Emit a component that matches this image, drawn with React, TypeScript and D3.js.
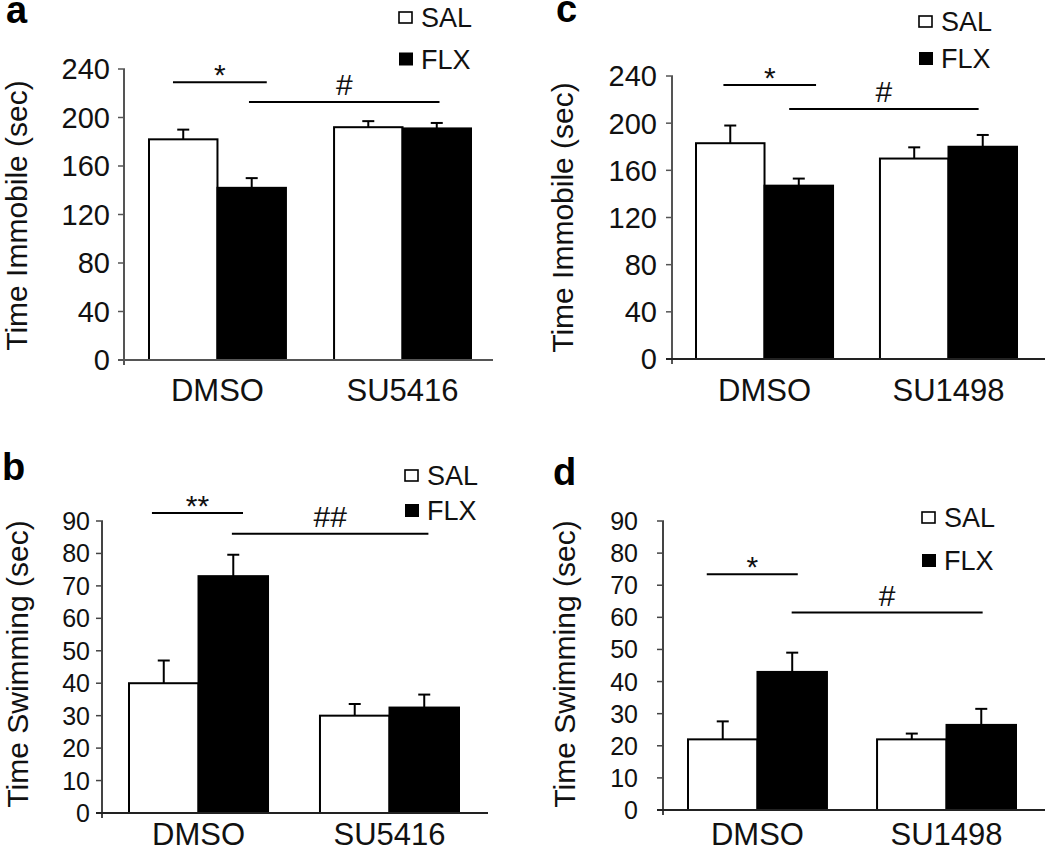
import React from "react";
import * as d3 from "d3";

// ---------- data ----------
const SERIES = ["SAL", "FLX"];
const groupsSU5416 = ["DMSO", "SU5416"];
const groupsSU1498 = ["DMSO", "SU1498"];

const ticksImmobile = [0, 40, 80, 120, 160, 200, 240];
const ticksSwimming = [0, 10, 20, 30, 40, 50, 60, 70, 80, 90];

// panel a: Time Immobile, SU5416
const aSalMean = [182, 192];
const aSalErr = [8, 5];
const aFlxMean = [142, 191];
const aFlxErr = [8, 4.5];
// panel b: Time Swimming, SU5416
const bSalMean = [40, 30];
const bSalErr = [7, 3.6];
const bFlxMean = [73, 32.5];
const bFlxErr = [6.6, 4];
// panel c: Time Immobile, SU1498
const cSalMean = [183, 170];
const cSalErr = [15, 9.5];
const cFlxMean = [147, 180];
const cFlxErr = [6, 10];
// panel d: Time Swimming, SU1498
const dSalMean = [22, 22];
const dSalErr = [5.6, 1.8];
const dFlxMean = [43, 26.5];
const dFlxErr = [6, 5];

// significance annotations: [label, fromGroup, fromFrac, toGroup, toFrac, yValue]
const aSig = [
  ["*", 0, 0.175, 0, 0.86, 229],
  ["#", 0, 0.73, 1, 0.77, 212.8],
];
const bSig = [
  ["**", 0, 0.165, 0, 0.82, 92.5],
  ["##", 0, 0.74, 1, 0.78, 86.1],
];
const cSig = [
  ["*", 0, 0.2, 0, 0.876, 232.4],
  ["#", 0, 0.68, 1, 0.72, 212],
];
const dSig = [
  ["*", 0, 0.135, 0, 0.79, 73.4],
  ["#", 0, 0.746, 1, 0.76, 61.5],
];

const FONT = "'Liberation Sans', Arial, Helvetica, sans-serif";

type Cfg = {
  letter: string;
  letterX: number;
  letterY: number;
  groups: string[];
  sal: number[];
  salErr: number[];
  flx: number[];
  flxErr: number[];
  sig: any[];
  ticks: number[];
  yMax: number;
  yLabel: string;
  axisX: number;
  axisRight: number;
  yTop: number;
  yZero: number;
  bandStart: number;
  bandEnd: number;
  padInner: number;
  tickFont: number;
  tickLabelX: number;
  yLabelX: number;
  yLabelY: number;
  legendX: number;
  salBase: number;
  flxBase: number;
  catBase: number;
  axisColor: string;
  xAxisColor: string;
};

function Panel({ c }: { c: Cfg }) {
  const x = d3
    .scaleBand<string>()
    .domain(c.groups)
    .range([c.bandStart, c.bandEnd])
    .paddingInner(c.padInner)
    .paddingOuter(0);
  const xi = d3.scaleBand<string>().domain(SERIES).range([0, x.bandwidth()]);
  const y = d3.scaleLinear().domain([0, c.yMax]).range([c.yZero, c.yTop]);

  const rows = c.groups.flatMap((g, gi) => [
    { g, s: "SAL", v: c.sal[gi], e: c.salErr[gi] },
    { g, s: "FLX", v: c.flx[gi], e: c.flxErr[gi] },
  ]);

  const capW = 12;

  return (
    <g>
      <text
        x={c.letterX}
        y={c.letterY}
        fontFamily={FONT}
        fontWeight="bold"
        fontSize={38}
      >
        {c.letter}
      </text>

      {/* y axis label */}
      <text
        transform={`translate(${c.yLabelX},${c.yLabelY}) rotate(-90)`}
        textAnchor="middle"
        fontFamily={FONT}
        fontSize={30}
        fill="#111"
      >
        {c.yLabel}
      </text>

      {/* bars */}
      {rows.map((r, i) => {
        const bx = (x(r.g) as number) + (xi(r.s) as number);
        const bw = xi.bandwidth();
        const top = y(r.v);
        const et = y(r.v + r.e);
        const cx = bx + bw / 2;
        return (
          <g key={i}>
            <line x1={cx} x2={cx} y1={top} y2={et} stroke="#000" strokeWidth={2} />
            <line
              x1={cx - capW / 2}
              x2={cx + capW / 2}
              y1={et}
              y2={et}
              stroke="#000"
              strokeWidth={2}
            />
            <rect
              x={bx}
              y={top}
              width={bw}
              height={y(0) - top}
              fill={r.s === "SAL" ? "#fff" : "#000"}
              stroke="#000"
              strokeWidth={2}
            />
          </g>
        );
      })}

      {/* y axis */}
      <line
        x1={c.axisX}
        x2={c.axisX}
        y1={y(c.yMax)}
        y2={y(0) + 5}
        stroke={c.axisColor}
        strokeWidth={2}
      />
      {c.ticks.map((t) => (
        <g key={t}>
          <line
            x1={c.axisX - 6}
            x2={c.axisX + 1}
            y1={y(t)}
            y2={y(t)}
            stroke={c.axisColor}
            strokeWidth={1.5}
          />
          <text
            x={c.tickLabelX}
            y={y(t)}
            dy="0.36em"
            textAnchor="end"
            fontFamily={FONT}
            fontSize={c.tickFont}
            fill="#111"
          >
            {t}
          </text>
        </g>
      ))}

      {/* x axis */}
      <line
        x1={c.axisX - 6}
        x2={c.axisRight}
        y1={y(0)}
        y2={y(0)}
        stroke={c.xAxisColor}
        strokeWidth={2}
      />
      {c.groups.map((g) => (
        <text
          key={g}
          x={(x(g) as number) + x.bandwidth() / 2}
          y={c.catBase}
          textAnchor="middle"
          fontFamily={FONT}
          fontSize={31}
          fill="#111"
        >
          {g}
        </text>
      ))}

      {/* significance */}
      {c.sig.map((s, i) => {
        const x1 = (x(c.groups[s[1]]) as number) + s[2] * x.bandwidth();
        const x2 = (x(c.groups[s[3]]) as number) + s[4] * x.bandwidth();
        const ly = y(s[5]);
        const isStar = String(s[0]).startsWith("*");
        return (
          <g key={i}>
            <line x1={x1} x2={x2} y1={ly} y2={ly} stroke="#000" strokeWidth={2} />
            <text
              x={(x1 + x2) / 2}
              y={isStar ? ly + 3 : ly - 7}
              textAnchor="middle"
              fontFamily={FONT}
              fontSize={30}
              fill="#111"
            >
              {s[0]}
            </text>
          </g>
        );
      })}

      {/* legend */}
      <rect
        x={c.legendX}
        y={c.salBase - 15}
        width={13}
        height={11}
        fill="#fff"
        stroke="#000"
        strokeWidth={1.6}
      />
      <text x={c.legendX + 22} y={c.salBase} fontFamily={FONT} fontSize={27} fill="#111">
        {SERIES[0]}
      </text>
      <rect x={c.legendX} y={c.flxBase - 16} width={14} height={13} fill="#000" />
      <text x={c.legendX + 22} y={c.flxBase} fontFamily={FONT} fontSize={27} fill="#111">
        {SERIES[1]}
      </text>
    </g>
  );
}

const panelA: Cfg = {
  letter: "a", letterX: 6, letterY: 23,
  groups: groupsSU5416, sal: aSalMean, salErr: aSalErr, flx: aFlxMean, flxErr: aFlxErr,
  sig: aSig, ticks: ticksImmobile, yMax: 240, yLabel: "Time Immobile (sec)",
  axisX: 124, axisRight: 493, yTop: 69, yZero: 360,
  bandStart: 149, bandEnd: 471, padInner: 0.26,
  tickFont: 29, tickLabelX: 110, yLabelX: 27, yLabelY: 215.5,
  legendX: 399, salBase: 27, flxBase: 68.5, catBase: 401,
  axisColor: "#555", xAxisColor: "#555",
};
const panelC: Cfg = {
  letter: "c", letterX: 556, letterY: 22,
  groups: groupsSU1498, sal: cSalMean, salErr: cSalErr, flx: cFlxMean, flxErr: cFlxErr,
  sig: cSig, ticks: ticksImmobile, yMax: 240, yLabel: "Time Immobile (sec)",
  axisX: 672, axisRight: 1045, yTop: 76, yZero: 359,
  bandStart: 696, bandEnd: 1017, padInner: 0.255,
  tickFont: 29, tickLabelX: 657, yLabelX: 573, yLabelY: 217.5,
  legendX: 919, salBase: 31, flxBase: 68, catBase: 401,
  axisColor: "#555", xAxisColor: "#222",
};
const panelB: Cfg = {
  letter: "b", letterX: 2, letterY: 480,
  groups: groupsSU5416, sal: bSalMean, salErr: bSalErr, flx: bFlxMean, flxErr: bFlxErr,
  sig: bSig, ticks: ticksSwimming, yMax: 90, yLabel: "Time Swimming (sec)",
  axisX: 102, axisRight: 488, yTop: 521, yZero: 813,
  bandStart: 129, bandEnd: 459, padInner: 0.272,
  tickFont: 25, tickLabelX: 90, yLabelX: 28, yLabelY: 664,
  legendX: 405, salBase: 485, flxBase: 520, catBase: 845,
  axisColor: "#444", xAxisColor: "#222",
};
const panelD: Cfg = {
  letter: "d", letterX: 553, letterY: 485,
  groups: groupsSU1498, sal: dSalMean, salErr: dSalErr, flx: dFlxMean, flxErr: dFlxErr,
  sig: dSig, ticks: ticksSwimming, yMax: 90, yLabel: "Time Swimming (sec)",
  axisX: 663, axisRight: 1045, yTop: 521, yZero: 810,
  bandStart: 688, bandEnd: 1016, padInner: 0.265,
  tickFont: 25, tickLabelX: 638, yLabelX: 575, yLabelY: 664,
  legendX: 922, salBase: 527, flxBase: 570, catBase: 845,
  axisColor: "#444", xAxisColor: "#222",
};

export default function App() {
  return (
    <svg
      width={1050}
      height={853}
      style={{ position: "absolute", left: 0, top: 0, background: "#fff" }}
    >
      <rect x={0} y={0} width={1050} height={853} fill="#fff" />
      <Panel c={panelA} />
      <Panel c={panelB} />
      <Panel c={panelC} />
      <Panel c={panelD} />
    </svg>
  );
}
